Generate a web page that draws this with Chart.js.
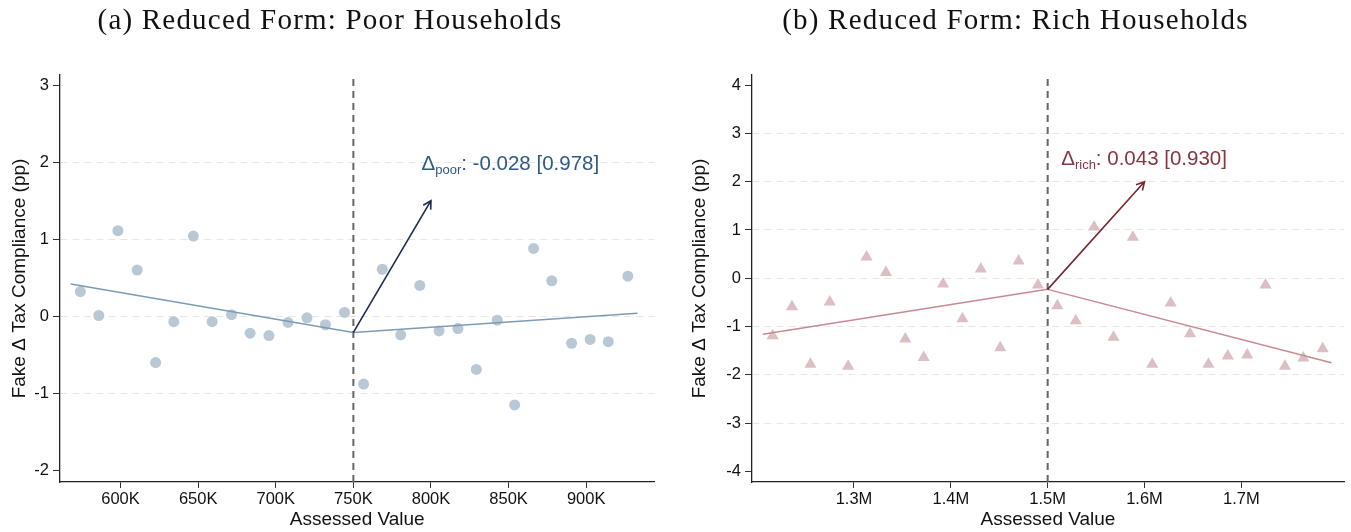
<!DOCTYPE html>
<html>
<head>
<meta charset="utf-8">
<script src="https://cdn.jsdelivr.net/npm/chart.js@4.4.0/dist/chart.umd.min.js"></script>
<style>
  html, body { margin: 0; padding: 0; background: #fff; }
  #wrap { position: relative; width: 1351px; height: 532px; }
  #poor { position: absolute; left: 0; top: 0; }
  #rich { position: absolute; left: 680px; top: 0; }
</style>
</head>
<body>
<div id="wrap">
  <canvas id="poor" width="660" height="532"></canvas>
  <canvas id="rich" width="671" height="532"></canvas>
</div>
<script>
// panel (a): poor households, assessed value in thousands
var poorX = [574.1, 586.0, 598.3, 610.7, 622.6, 634.3, 646.9, 659.0, 671.5, 683.5,
             695.6, 707.9, 720.1, 732.0, 744.3, 756.6, 768.6, 780.5, 792.8, 805.2,
             817.4, 829.2, 842.7, 853.9, 866.1, 877.8, 890.6, 902.5, 914.2, 926.8];
var poorY = [0.32, 0.01, 1.11, 0.60, -0.60, -0.07, 1.04, -0.07, 0.02, -0.22,
             -0.25, -0.08, -0.02, -0.11, 0.05, -0.88, 0.61, -0.24, 0.40, -0.19,
             -0.16, -0.69, -0.05, -1.15, 0.88, 0.46, -0.35, -0.30, -0.33, 0.52];
var poorFitLeftX = [567.9, 750];
var poorFitLeftY = [0.42, -0.21];
var poorFitRightX = [750, 933];
var poorFitRightY = [-0.21, 0.04];
var poorArrow = [[750, -0.21], [800, 1.5]];
var poorLabelAt = [793.9, 1.99];
var poorXTicks = [600, 650, 700, 750, 800, 850, 900];
var poorYTicks = [-2, -1, 0, 1, 2, 3];

// panel (b): rich households, assessed value in millions
var richX = [1.216, 1.236, 1.255, 1.275, 1.294, 1.313, 1.333, 1.353, 1.372, 1.392,
             1.412, 1.431, 1.451, 1.470, 1.490, 1.510, 1.529, 1.548, 1.568, 1.588,
             1.608, 1.627, 1.647, 1.666, 1.686, 1.706, 1.725, 1.745, 1.764, 1.784];
var richY = [-1.19, -0.59, -1.78, -0.49, -1.82, 0.44, 0.12, -1.26, -1.64, -0.12,
             -0.84, 0.19, -1.44, 0.36, -0.14, -0.57, -0.88, 1.06, -1.22, 0.85,
             -1.78, -0.51, -1.15, -1.78, -1.61, -1.59, -0.14, -1.82, -1.65, -1.46];
var richFitLeftX = [1.206, 1.5];
var richFitLeftY = [-1.16, -0.23];
var richFitRightX = [1.5, 1.793];
var richFitRightY = [-0.23, -1.75];
var richArrow = [[1.5, -0.23], [1.6, 2.0]];
var richLabelAt = [1.514, 2.49];
var richXTicks = [1.3, 1.4, 1.5, 1.6, 1.7];
var richYTicks = [-4, -3, -2, -1, 0, 1, 2, 3, 4];

var SANS = '"Liberation Sans", Arial, sans-serif';

function pts(xs, ys) {
    var out = [];
    for (var i = 0; i < xs.length; i++) out.push({x: xs[i], y: ys[i]});
    return out;
}

// title, arrow and delta label drawn on top of the plot
function panelExtras(title, arrow, labelAt, sub, rest, arrowColor, textColor) {
    return {
        id: 'extras',
        afterDraw: function(chart) {
            var ctx = chart.ctx, xs = chart.scales.x, ys = chart.scales.y;
            ctx.save();
            // panel title
            ctx.font = '29px "Liberation Serif", "Times New Roman", serif';
            ctx.letterSpacing = '1.2px';
            ctx.fillStyle = '#111';
            ctx.textAlign = 'center';
            ctx.textBaseline = 'middle';
            ctx.fillText(title, chart.width / 2, 21);
            ctx.letterSpacing = '0px';

            // arrow
            var x0 = xs.getPixelForValue(arrow[0][0]), y0 = ys.getPixelForValue(arrow[0][1]);
            var x1 = xs.getPixelForValue(arrow[1][0]), y1 = ys.getPixelForValue(arrow[1][1]);
            var ang = Math.atan2(y1 - y0, x1 - x0), hl = 9, ha = 0.5;
            ctx.strokeStyle = arrowColor;
            ctx.lineWidth = 1.6;
            ctx.beginPath();
            ctx.moveTo(x0, y0); ctx.lineTo(x1, y1);
            ctx.moveTo(x1 - hl * Math.cos(ang - ha), y1 - hl * Math.sin(ang - ha));
            ctx.lineTo(x1, y1);
            ctx.lineTo(x1 - hl * Math.cos(ang + ha), y1 - hl * Math.sin(ang + ha));
            ctx.stroke();

            // delta label
            var px = xs.getPixelForValue(labelAt[0]);
            var base = ys.getPixelForValue(labelAt[1]) + 7.3;
            ctx.fillStyle = textColor;
            ctx.textAlign = 'left';
            ctx.textBaseline = 'alphabetic';
            ctx.font = '20.5px ' + SANS;
            ctx.fillText('\u0394', px, base);
            px += ctx.measureText('\u0394').width;
            ctx.font = '13px ' + SANS;
            ctx.fillText(sub, px, base + 4);
            px += ctx.measureText(sub).width;
            ctx.font = '20.5px ' + SANS;
            ctx.fillText(rest, px, base);
            ctx.restore();
        }
    };
}

function makeChart(id, o) {
    return new Chart(document.getElementById(id), {
        type: 'scatter',
        data: {
            datasets: [
                {data: pts(o.cut, [o.yMin, o.yMax]), showLine: true, borderColor: '#666',
                 borderWidth: 2, borderDash: [7, 5], pointRadius: 0, order: 1},
                {data: pts(o.fitLX, o.fitLY), showLine: true, borderColor: o.lineColor,
                 borderWidth: 1.5, pointRadius: 0, order: 2},
                {data: pts(o.fitRX, o.fitRY), showLine: true, borderColor: o.lineColor,
                 borderWidth: 1.5, pointRadius: 0, order: 2},
                {data: pts(o.xs, o.ys), pointStyle: o.marker, pointRadius: o.radius,
                 backgroundColor: o.dotColor, borderWidth: 0, order: 3}
            ]
        },
        options: {
            responsive: false,
            animation: false,
            layout: {padding: {top: 75, right: o.padRight, bottom: 0, left: 0}},
            plugins: {legend: {display: false}, tooltip: {enabled: false}, title: {display: false}},
            scales: {
                x: {
                    type: 'linear', min: o.xMin, max: o.xMax,
                    afterBuildTicks: function(s) { s.ticks = o.xTicks.map(function(v) { return {value: v}; }); },
                    afterFit: function(s) { s.height = 50; },
                    grid: {drawOnChartArea: false, color: '#333', tickColor: '#333', tickLength: 6, tickWidth: 1},
                    border: {color: '#222', width: 1.3},
                    ticks: {color: '#111', font: {family: SANS, size: 16.5}, padding: 2,
                            maxRotation: 0, autoSkip: false, callback: o.xFmt},
                    title: {display: true, text: 'Assessed Value', color: '#111',
                            font: {family: SANS, size: 19}, padding: {top: 0, bottom: 1}}
                },
                y: {
                    min: o.yMin, max: o.yMax,
                    afterBuildTicks: function(s) { s.ticks = o.yTicks.map(function(v) { return {value: v}; }); },
                    afterFit: function(s) { s.width = o.yWidth; },
                    grid: {
                        color: function(c) {
                            return (c.index === 0 || c.index === o.yTicks.length - 1) ? 'rgba(0,0,0,0)' : '#e6e6e6';
                        },
                        tickColor: '#333', tickLength: 7, tickWidth: 1, lineWidth: 1
                    },
                    border: {color: '#222', width: 1.3, dash: [7, 5]},
                    ticks: {color: '#111', font: {family: SANS, size: 16.5}, padding: 4,
                            callback: function(v) { return String(v); }},
                    title: {display: true, text: 'Fake \u0394 Tax Compliance (pp)', color: '#111',
                            font: {family: SANS, size: 19}, padding: {top: 8, bottom: 0}}
                }
            }
        },
        plugins: [panelExtras(o.title, o.arrow, o.labelAt, o.sub, o.rest, o.arrowColor, o.textColor)]
    });
}

makeChart('poor', {
    xs: poorX, ys: poorY, fitLX: poorFitLeftX, fitLY: poorFitLeftY, fitRX: poorFitRightX, fitRY: poorFitRightY,
    cut: [750, 750], xMin: 561, xMax: 944, yMin: -2.15, yMax: 3.13,
    xTicks: poorXTicks, yTicks: poorYTicks, yWidth: 60, padRight: 0,
    xFmt: function(v) { return v + 'K'; },
    marker: 'circle', radius: 5.5, dotColor: '#b9c8d5', lineColor: '#7f9bb4',
    arrow: poorArrow, labelAt: poorLabelAt, sub: 'poor', rest: ': -0.028 [0.978]',
    arrowColor: '#1c2b4f', textColor: '#2d5a85',
    title: '(a) Reduced Form: Poor Households'
});

makeChart('rich', {
    xs: richX, ys: richY, fitLX: richFitLeftX, fitLY: richFitLeftY, fitRX: richFitRightX, fitRY: richFitRightY,
    cut: [1.5, 1.5], xMin: 1.1947, xMax: 1.806, yMin: -4.22, yMax: 4.21,
    xTicks: richXTicks, yTicks: richYTicks, yWidth: 72, padRight: 4,
    xFmt: function(v) { return v.toFixed(1) + 'M'; },
    marker: 'triangle', radius: 7, dotColor: '#dcbfc3', lineColor: '#c98990',
    arrow: richArrow, labelAt: richLabelAt, sub: 'rich', rest: ': 0.043 [0.930]',
    arrowColor: '#7a2631', textColor: '#8a3440',
    title: '(b) Reduced Form: Rich Households'
});
</script>
</body>
</html>
